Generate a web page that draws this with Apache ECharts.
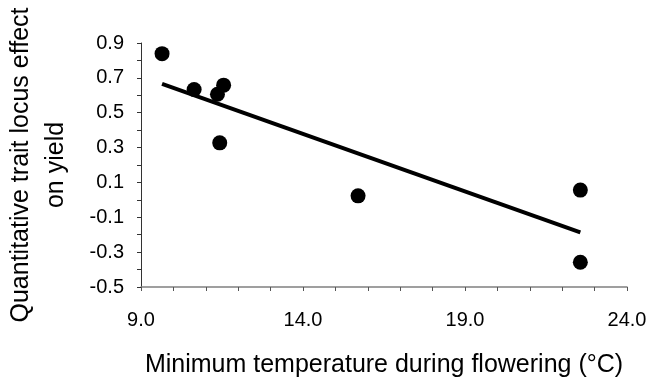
<!DOCTYPE html>
<html>
<head>
<meta charset="utf-8">
<script src="https://cdn.jsdelivr.net/npm/echarts@6/dist/echarts.min.js"></script>
<style>
  html, body { margin: 0; padding: 0; background: #fff; }
  #chart { width: 651px; height: 378px; }
</style>
</head>
<body>
<div id="chart"></div>
<script>
// minimum temperature during flowering (°C)
const tempX = [9.65, 10.64, 11.36, 11.55, 11.43, 15.7, 22.56, 22.56]
// QTL effect on yield
const qtlEffect = [0.839, 0.633, 0.606, 0.658, 0.327, 0.023, 0.056, -0.358]
// fitted trend line, end points
const trendX = [9.65, 22.56]
const trendY = [0.665, -0.186]
const xLabelTicks = [9, 14, 19, 24]

const font = 'Liberation Sans, Arial, sans-serif'

const chart = echarts.init(document.getElementById('chart'), null, { renderer: 'canvas' })

chart.setOption({
  animation: false,
  backgroundColor: '#fff',
  grid: { left: 141, right: 24, top: 43, bottom: 91, outerBoundsMode: 'none', containLabel: false },
  xAxis: {
    type: 'value',
    min: 9,
    max: 24,
    interval: 1,
    name: 'Minimum temperature during flowering (°C)',
    nameLocation: 'middle',
    nameGap: 66,
    nameTextStyle: { fontFamily: font, fontSize: 25, color: '#000' },
    axisLine: { onZero: false, lineStyle: { color: '#808080', width: 1.5 } },
    axisTick: { length: 4, lineStyle: { color: '#555' } },
    splitLine: { show: false },
    axisLabel: {
      margin: 23,
      fontFamily: font,
      fontSize: 20,
      color: '#000',
      formatter: (v) => (xLabelTicks.includes(Math.round(v)) ? v.toFixed(1) : '')
    }
  },
  yAxis: {
    type: 'value',
    min: -0.5,
    max: 0.9,
    interval: 0.1,
    name: 'Quantitative trait locus effect\non yield',
    nameLocation: 'middle',
    nameRotate: 90,
    nameGap: 67,
    nameTextStyle: { fontFamily: font, fontSize: 25, color: '#000', lineHeight: 35 },
    axisLine: { onZero: false, lineStyle: { color: '#333', width: 1 } },
    axisTick: { length: 4, lineStyle: { color: '#333' } },
    splitLine: { show: false },
    axisLabel: {
      margin: 17,
      fontFamily: font,
      fontSize: 20,
      color: '#000',
      formatter: (v) => {
        const n = Math.round(v * 10)
        return (n + 5) % 2 === 0 ? (n / 10).toFixed(1) : ''
      }
    }
  },
  series: [
    {
      type: 'line',
      data: trendX.map((x, i) => [x, trendY[i]]),
      symbol: 'none',
      lineStyle: { color: '#000', width: 4 },
      z: 2
    },
    {
      type: 'scatter',
      data: tempX.map((x, i) => [x, qtlEffect[i]]),
      symbol: 'circle',
      symbolSize: 15,
      itemStyle: { color: '#000', opacity: 1 },
      z: 3
    }
  ]
})
</script>
</body>
</html>
